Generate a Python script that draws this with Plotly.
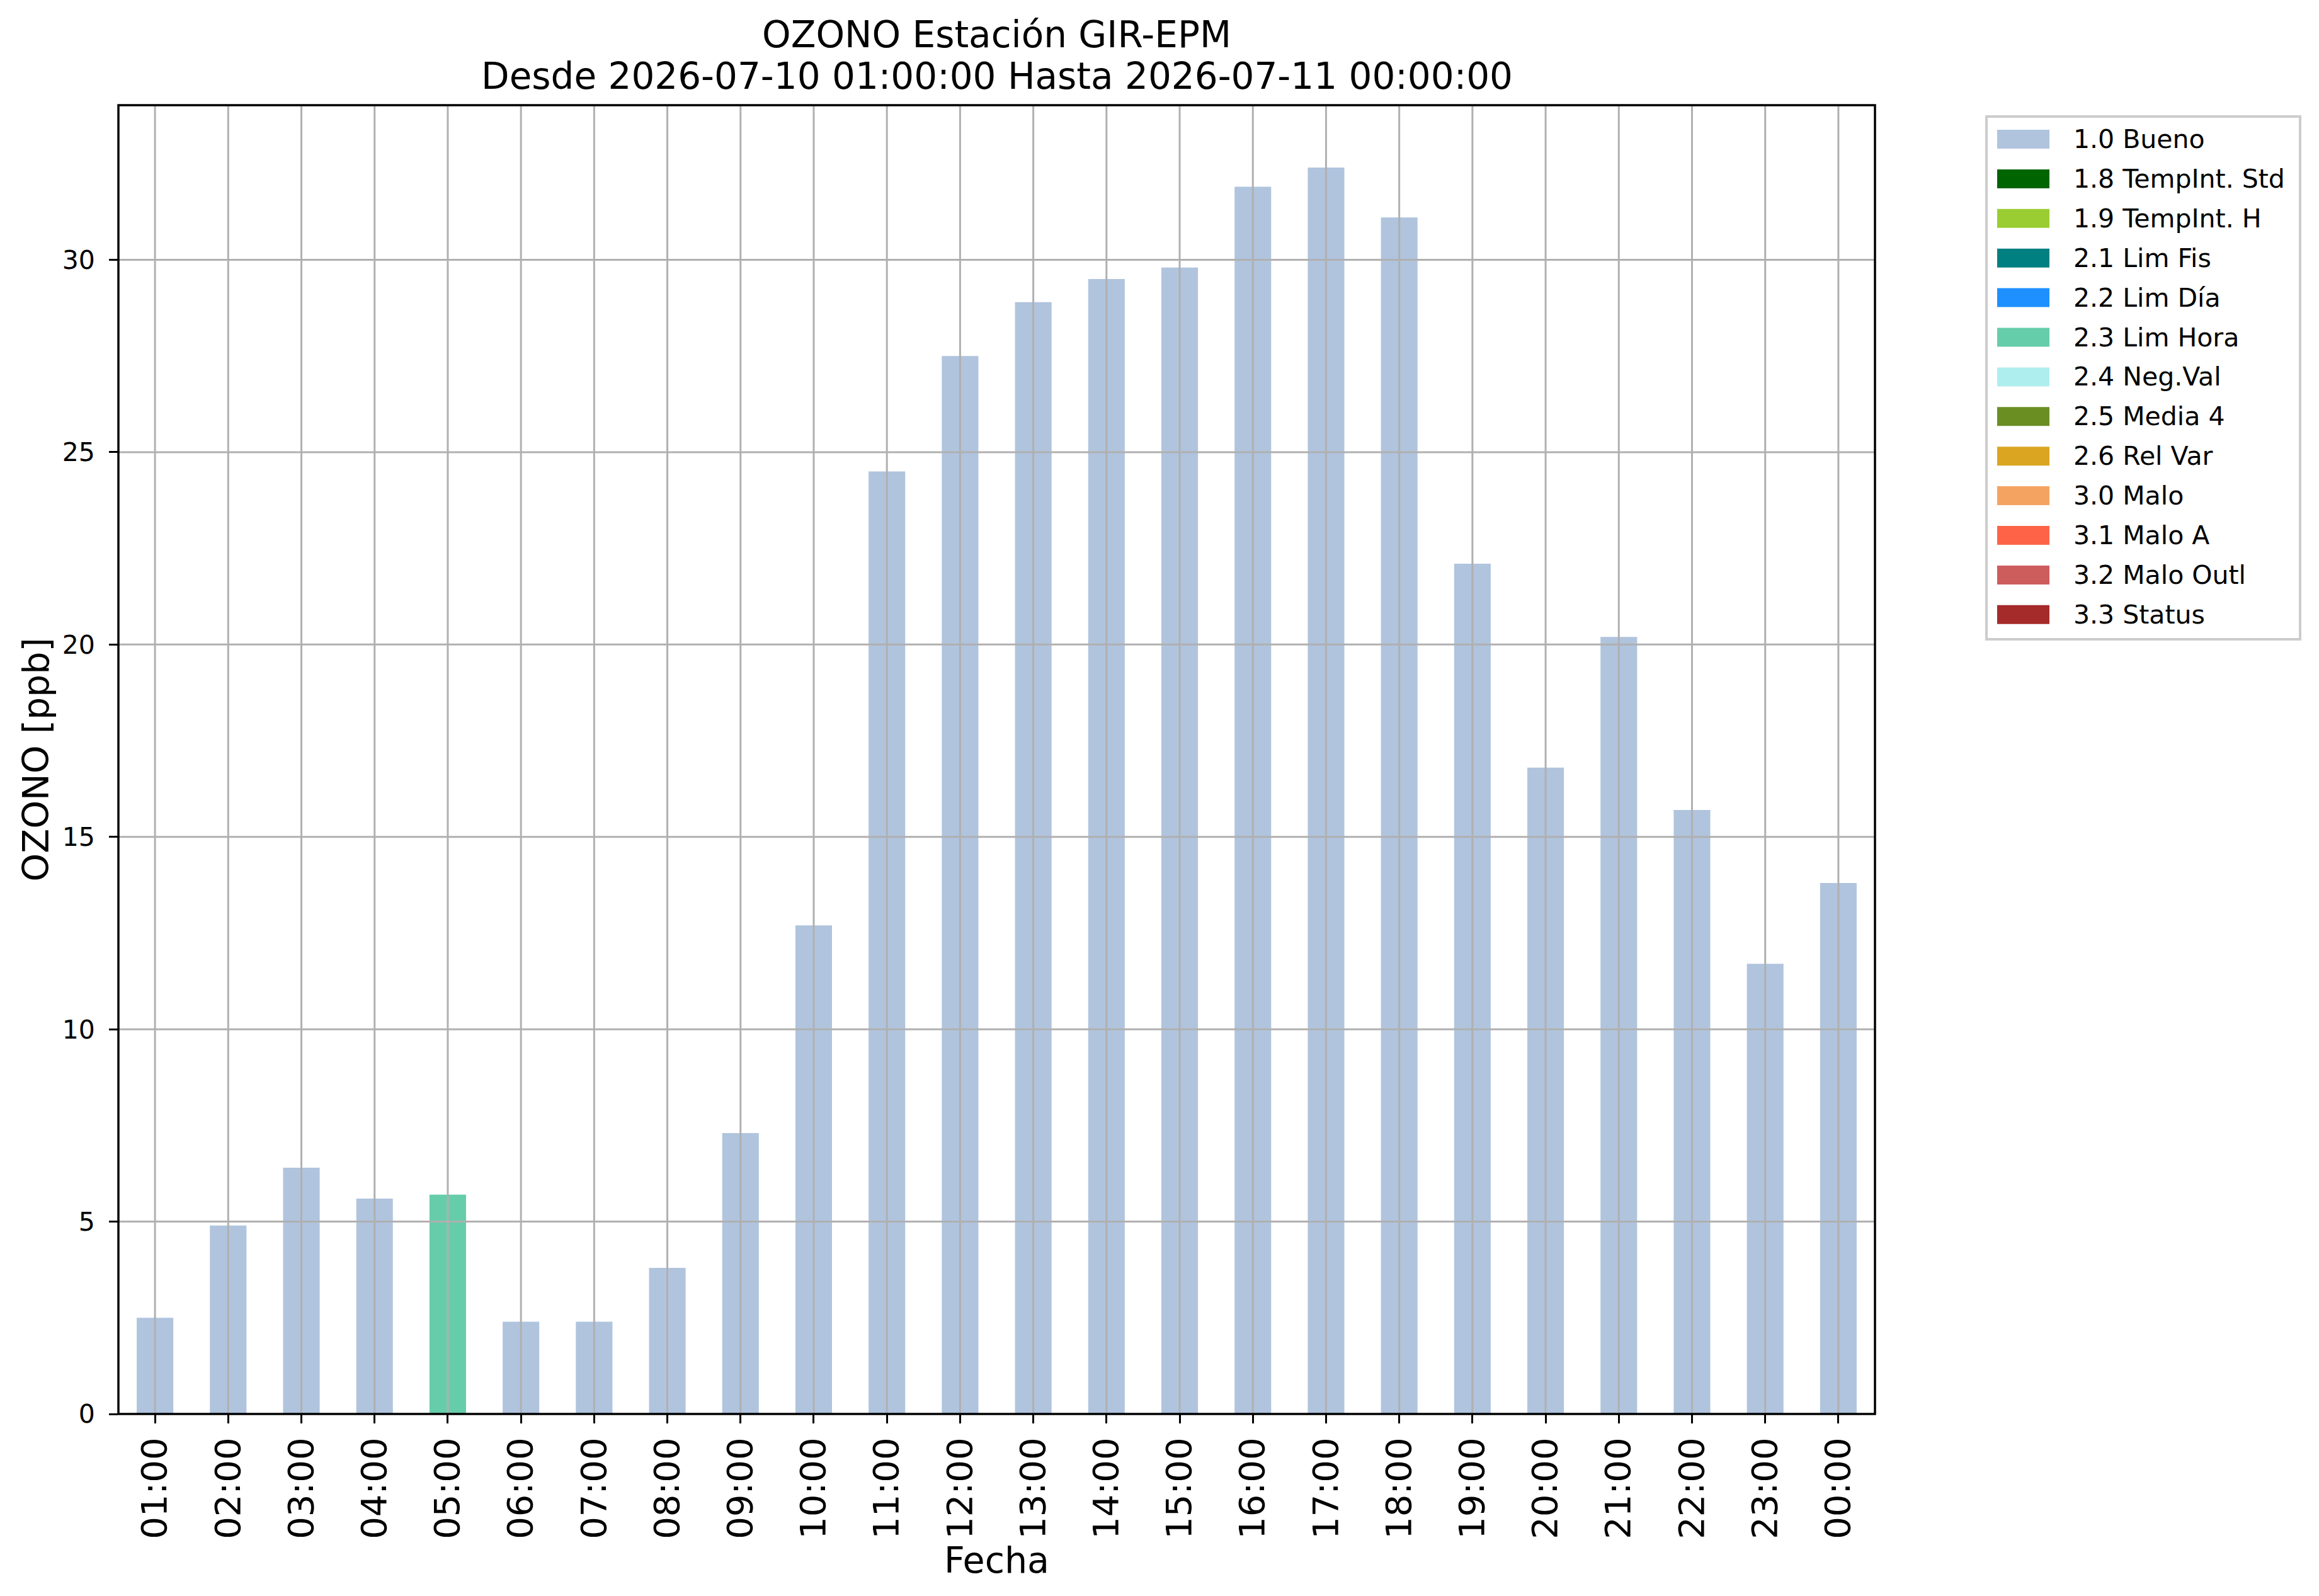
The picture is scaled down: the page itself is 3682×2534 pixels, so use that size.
import plotly.graph_objects as go

# hourly ozone, GIR-EPM station
hours = ["01:00", "02:00", "03:00", "04:00", "05:00", "06:00", "07:00", "08:00",
         "09:00", "10:00", "11:00", "12:00", "13:00", "14:00", "15:00", "16:00",
         "17:00", "18:00", "19:00", "20:00", "21:00", "22:00", "23:00", "00:00"]
ozone = [2.5, 4.9, 6.4, 5.6, 5.7, 2.4, 2.4, 3.8, 7.3, 12.7, 24.5, 27.5,
         28.9, 29.5, 29.8, 31.9, 32.4, 31.1, 22.1, 16.8, 20.2, 15.7, 11.7, 13.8]
flags = ["1.0 Bueno", "1.0 Bueno", "1.0 Bueno", "1.0 Bueno", "2.3 Lim Hora",
         "1.0 Bueno", "1.0 Bueno", "1.0 Bueno", "1.0 Bueno", "1.0 Bueno",
         "1.0 Bueno", "1.0 Bueno", "1.0 Bueno", "1.0 Bueno", "1.0 Bueno",
         "1.0 Bueno", "1.0 Bueno", "1.0 Bueno", "1.0 Bueno", "1.0 Bueno",
         "1.0 Bueno", "1.0 Bueno", "1.0 Bueno", "1.0 Bueno"]

flag_labels = ["1.0 Bueno", "1.8 TempInt. Std", "1.9 TempInt. H", "2.1 Lim Fis",
               "2.2 Lim Día", "2.3 Lim Hora", "2.4 Neg.Val", "2.5 Media 4",
               "2.6 Rel Var", "3.0 Malo", "3.1 Malo A", "3.2 Malo Outl", "3.3 Status"]
flag_colors = ["#B0C4DE", "#006400", "#9ACD32", "#008080", "#1E90FF", "#66CDAA",
               "#AFEEEE", "#6B8E23", "#DAA520", "#F4A460", "#FF6347", "#CD5C5C",
               "#A52A2A"]

y_ticks = [0, 5, 10, 15, 20, 25, 30]

title_lines = ["OZONO Estación GIR-EPM",
               "Desde 2026-07-10 01:00:00 Hasta 2026-07-11 00:00:00"]

W, H = 3682, 2534
L, R, T, B = 188, 2977, 167, 2245   # plot area in pixels
FONT = "DejaVu Sans"
GRID = "#b0b0b0"


def px_x(p):
    return (p - L) / (R - L)


def px_y(p):
    return (B - p) / (B - T)


fig = go.Figure()

# one trace per flag so colours follow the flag table
for lab, col in zip(flag_labels, flag_colors):
    xs = [h for h, f in zip(hours, flags) if f == lab]
    ys = [v for v, f in zip(ozone, flags) if f == lab]
    if not xs:
        continue
    fig.add_trace(go.Bar(x=xs, y=ys, name=lab, marker_color=col,
                         marker_line_width=0, width=0.5, showlegend=False))

shapes = []
# grid drawn over the bars like matplotlib does here
for h in hours:
    shapes.append(dict(type="line", xref="x", yref="paper", x0=h, x1=h, y0=0, y1=1,
                       line=dict(color=GRID, width=3), layer="above"))
for v in y_ticks[1:]:
    shapes.append(dict(type="line", xref="paper", yref="y", x0=0, x1=1, y0=v, y1=v,
                       line=dict(color=GRID, width=3), layer="above"))
# axes frame
shapes.append(dict(type="rect", xref="paper", yref="paper", x0=0, x1=1, y0=0, y1=1,
                   line=dict(color="black", width=3.5), layer="above"))

# legend box, drawn by hand
shapes.append(dict(type="rect", xref="paper", yref="paper",
                   x0=px_x(3154), x1=px_x(3652), y0=px_y(1015), y1=px_y(185),
                   line=dict(color="#cccccc", width=4), fillcolor="white", layer="above"))
annotations = []
for i, (lab, col) in enumerate(zip(flag_labels, flag_colors)):
    yc = 221 + i * 62.9
    shapes.append(dict(type="rect", xref="paper", yref="paper",
                       x0=px_x(3171), x1=px_x(3254), y0=px_y(yc + 15), y1=px_y(yc - 15),
                       line=dict(width=0), fillcolor=col, layer="above"))
    annotations.append(dict(x=px_x(3290), y=px_y(yc), xref="paper", yref="paper",
                            text=lab, showarrow=False, xanchor="left", yanchor="middle",
                            font=dict(family=FONT, size=41, color="black")))

# two-line title over the axes
for line, yc in zip(title_lines, [55, 121]):
    annotations.append(dict(x=0.5, y=px_y(yc), xref="paper", yref="paper",
                            text=line, showarrow=False, xanchor="center", yanchor="middle",
                            font=dict(family=FONT, size=58, color="black")))

fig.update_layout(
    width=W, height=H,
    margin=dict(l=L, r=W - R, t=T, b=H - B, pad=0),
    paper_bgcolor="white", plot_bgcolor="white",
    barmode="overlay",
    font=dict(family=FONT, color="black"),
    shapes=shapes,
    annotations=annotations,
    showlegend=False,
)

fig.update_xaxes(
    type="category", categoryorder="array", categoryarray=hours,
    range=[-0.5, len(hours) - 0.5],
    tickvals=hours, ticktext=hours, tickangle=-90,
    tickfont=dict(family=FONT, size=56, color="black"),
    ticks="outside", ticklen=14, tickwidth=3, tickcolor="black",
    ticklabelstandoff=0,
    showgrid=False, showline=False, zeroline=False,
    title=dict(text="Fecha", font=dict(family=FONT, size=57, color="black"), standoff=10),
)
fig.update_yaxes(
    range=[0, max(ozone) * 1.05],
    tickvals=y_ticks,
    tickfont=dict(family=FONT, size=41, color="black"),
    ticks="outside", ticklen=14, tickwidth=3, tickcolor="black",
    ticklabelstandoff=14,
    showgrid=False, showline=False, zeroline=False,
    title=dict(text="OZONO [ppb]", font=dict(family=FONT, size=57, color="black"), standoff=2),
)

fig.write_html("out.html", config={"displayModeBar": False},
               post_script="document.body.style.margin='0';")
